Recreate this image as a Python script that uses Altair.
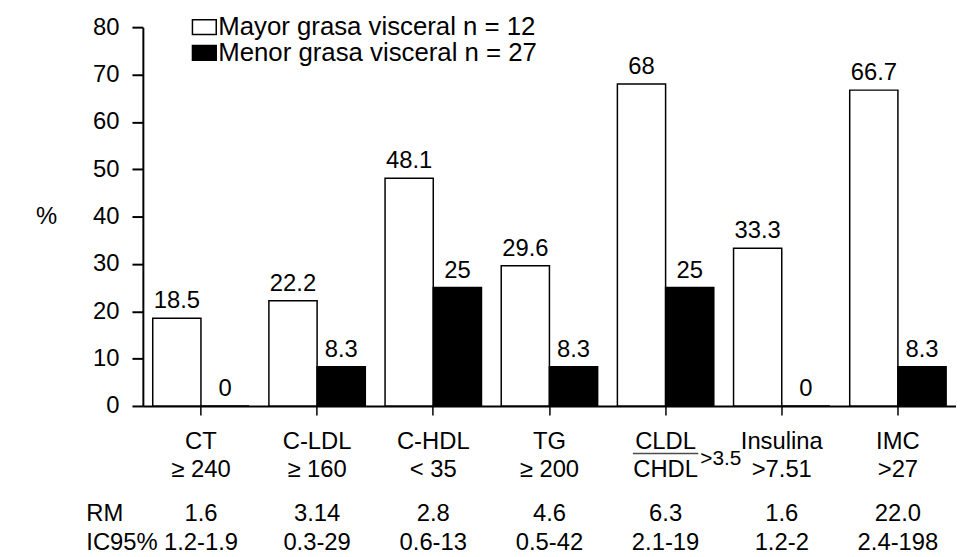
import altair as alt
import pandas as pd

# ---- data ----
categories = ["CT", "C-LDL", "C-HDL", "TG", "CLDL/CHDL", "Insulina", "IMC"]
line1 = ["CT", "C-LDL", "C-HDL", "TG", "CLDL", "Insulina", "IMC"]
line2 = ["≥ 240", "≥ 160", "< 35", "≥ 200", "CHDL", ">7.51", ">27"]
series = ["Mayor grasa visceral  n = 12", "Menor grasa visceral n = 27"]
mayor = [18.5, 22.2, 48.1, 29.6, 68, 33.3, 66.7]
menor = [0, 8.3, 25, 8.3, 25, 0, 8.3]
rm = ["1.6", "3.14", "2.8", "4.6", "6.3", "1.6", "22.0"]
ic95 = ["1.2-1.9", "0.3-29", "0.6-13", "0.5-42", "2.1-19", "1.2-2", "2.4-198"]
row_titles = ["RM", "IC95%"]
ratio_cat = ["CLDL/CHDL"]
ratio_suffix = [">3.5"]
y_ticks = [0, 10, 20, 30, 40, 50, 60, 70, 80]

FONT = "Liberation Sans"
FS = 24
W, H = 820, 382

bars_df = pd.DataFrame({
    "cat": categories * 2,
    "serie": [series[0]] * len(categories) + [series[1]] * len(categories),
    "val": mayor + menor,
})
cat_df = pd.DataFrame({"cat": categories, "l1": line1, "l2": line2, "rm": rm, "ic": ic95})
ratio_df = pd.DataFrame({"cat": ratio_cat, "t": ratio_suffix})

x_main = alt.X("cat:N", sort=categories,
               scale=alt.Scale(paddingInner=0.17, paddingOuter=0.085),
               axis=alt.Axis(labels=False, title=None, tickSize=9, tickWidth=1.5,
                             tickColor="black", domainColor="black", domainWidth=2))
x_plain = alt.X("cat:N", sort=categories)
xoff = alt.XOffset("serie:N", sort=series, scale=alt.Scale(paddingInner=0))
y_main = alt.Y("val:Q", scale=alt.Scale(domain=[0, 80]),
               axis=alt.Axis(values=y_ticks, title=None, grid=False, tickSize=11, tickWidth=2,
                             labelPadding=13, labelFont=FONT, labelFontSize=FS,
                             labelColor="black", domainColor="black", domainWidth=2,
                             tickColor="black"))
fill = alt.Fill("serie:N", sort=series,
                scale=alt.Scale(domain=series, range=["white", "black"]),
                legend=alt.Legend(title=None, orient="none", legendX=49, legendY=-13,
                                  symbolType="M-1,-0.625L1,-0.625L1,0.625L-1,0.625Z",
                                  symbolSize=576, symbolStrokeColor="black",
                                  symbolStrokeWidth=1.5, labelFont=FONT, labelFontSize=26,
                                  labelColor="black", labelOffset=1, rowPadding=-4,
                                  padding=0, labelLimit=600))

bars = alt.Chart(bars_df).mark_bar(stroke="black", strokeWidth=1.5).encode(
    x=x_main, xOffset=xoff, y=y_main, fill=fill)

values = alt.Chart(bars_df).mark_text(baseline="alphabetic", dy=-10, font=FONT,
                                      fontSize=FS, color="black").encode(
    x=x_plain, xOffset=alt.XOffset("serie:N", sort=series), y="val:Q",
    text=alt.Text("val:Q", format=".1~f"))

def row(field, ypix):
    return alt.Chart(cat_df).mark_text(baseline="middle", font=FONT, fontSize=FS,
                                       color="black").encode(
        x=x_plain, y=alt.value(ypix), text=f"{field}:N")

r1 = row("l1", 418)
r2 = row("l2", 447)
r3 = row("rm", 491)
r4 = row("ic", 520)

titles_df = pd.DataFrame({"t": row_titles, "yy": [491, 520]})
row_t = alt.Chart(titles_df).mark_text(align="left", baseline="middle", font=FONT,
                                       fontSize=FS, color="black").encode(
    x=alt.value(-57), y=alt.Y("yy:Q", scale=None), text="t:N")

pct = alt.Chart(pd.DataFrame({"t": ["%"]})).mark_text(
    baseline="middle", font=FONT, fontSize=FS, color="black").encode(
    x=alt.value(-97), y=alt.value(192), text="t:N")

underline = alt.Chart(ratio_df).mark_tick(orient="horizontal", size=66, thickness=1.5,
                                          color="black").encode(
    x=x_plain, y=alt.value(430))
suffix = alt.Chart(ratio_df).mark_text(align="left", baseline="middle", dx=35, font=FONT,
                                       fontSize=21, color="black").encode(
    x=x_plain, y=alt.value(436), text="t:N")

chart = alt.layer(bars, values, r1, r2, r3, r4, row_t, pct, underline, suffix).properties(
    width=W, height=H,
    autosize=alt.AutoSizeParams(type="none"),
    padding={"left": 136, "top": 17, "right": 0, "bottom": 150},
).configure_view(stroke=None)

chart.save("out.html", embed_options={"renderer": "svg", "actions": False})
